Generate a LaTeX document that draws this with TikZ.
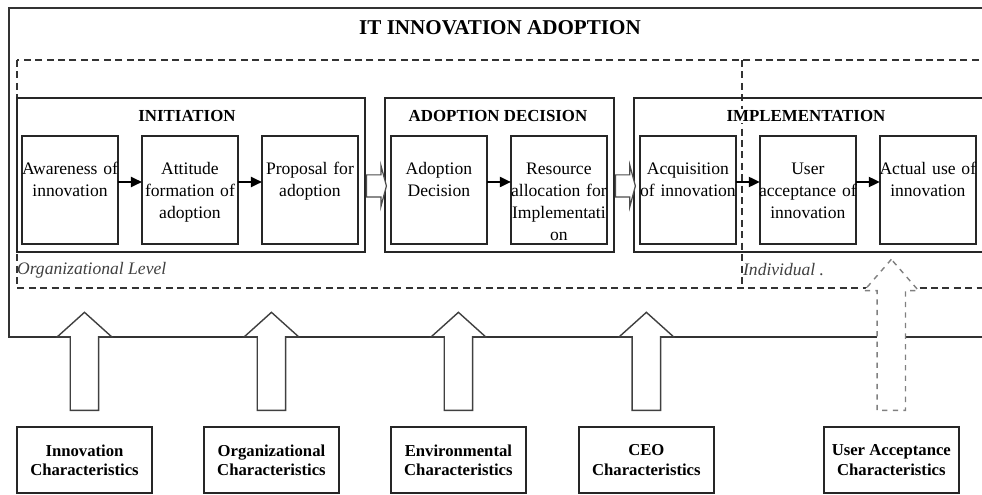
\documentclass[tikz,border=0pt]{standalone}
\usepackage{fontspec}
\setmainfont{Liberation Serif}
\usetikzlibrary{positioning,fit,shapes.arrows,arrows.meta}

\tikzset{
  framebox/.style={draw=black!80, line width=1pt},
  levelbox/.style={draw=black!80, line width=0.9pt, dash pattern=on 4pt off 2.5pt},
  stepbox/.style={draw=black!85, line width=1pt, text width=2.02cm, align=center,
    inner xsep=-0.05cm, inner ysep=0pt, outer sep=0pt,
    text height=0.78cm, text depth=1.38cm, font=\fontsize{10}{12.5}\selectfont},
  stagebox/.style={draw=black!85, line width=1pt, inner sep=0pt},
  stagetitle/.style={fill=white, inner sep=1pt, font=\fontsize{9.6}{11}\selectfont\bfseries},
  leveltext/.style={anchor=west, inner sep=1pt, font=\fontsize{10}{12}\selectfont\itshape, text=black!75},
  factorbox/.style={draw=black!85, line width=1pt, minimum width=2.7cm, minimum height=1.32cm,
    outer sep=0pt, align=center, inner sep=0pt, font=\fontsize{9.5}{11}\selectfont\bfseries},
  flow/.style={line width=1.1pt, -{Triangle[length=0.22cm,width=0.2cm]}},
  stagearrow/.style={single arrow, anchor=tail, draw=black!70, fill=white, line width=0.7pt,
    inner xsep=0pt, inner ysep=0.21cm, minimum height=0.4cm,
    single arrow head extend=0.19cm, single arrow tip angle=150},
  uparrow/.style={single arrow, shape border rotate=90, anchor=tail, draw=black!75, fill=white,
    line width=0.8pt, inner sep=0.27cm, minimum height=1.96cm,
    single arrow head extend=0.26cm, single arrow tip angle=96}
}

\begin{document}
\begin{tikzpicture}[x=0.02cm, y=-0.02cm]
\useasboundingbox (0,0) rectangle (982,494);
\clip (0,0) rectangle (982,494);

% outer frame and levels
\draw[framebox] (9,8) rectangle (995,337);
\draw[levelbox] (17,60) rectangle (995,288);
\draw[levelbox] (742,60) -- (742,284);
\node[font=\fontsize{12}{14}\selectfont\bfseries] (title) at (500,28) {IT INNOVATION ADOPTION};

% process steps
\node[stepbox, anchor=north west] (aware) at (22,136) {Awareness of\\innovation};
\node[stepbox, right=0.48cm of aware] (attitude) {Attitude\\formation of\\adoption};
\node[stepbox, right=0.48cm of attitude] (proposal) {Proposal for\\adoption};
\node[stepbox, right=0.66cm of proposal] (decision) {Adoption\\Decision};
\node[stepbox, right=0.48cm of decision] (resource) {Resource\\allocation for\\Implementati\\on};
\node[stepbox, right=0.66cm of resource] (acquisition) {Acquisition\\of innovation};
\node[stepbox, right=0.48cm of acquisition] (acceptance) {User\\acceptance of\\innovation};
\node[stepbox, right=0.48cm of acceptance] (actualuse) {Actual use of\\innovation};

% stages
\node[stagebox, fit={([xshift=-0.1cm,yshift=0.76cm]aware.north west) ([xshift=0.14cm,yshift=-0.16cm]proposal.south east)}] (initiation) {};
\node[stagebox, fit={([xshift=-0.12cm,yshift=0.76cm]decision.north west) ([xshift=0.14cm,yshift=-0.16cm]resource.south east)}] (adoption) {};
\node[stagebox, fit={([xshift=-0.12cm,yshift=0.76cm]acquisition.north west) ([xshift=0.14cm,yshift=-0.16cm]actualuse.south east)}] (implementation) {};
\node[stagetitle] (initiationtitle) at (187,116) {INITIATION};
\node[stagetitle] (adoptiontitle) at (498,116) {ADOPTION DECISION};
\node[stagetitle] (implementationtitle) at (806,116) {IMPLEMENTATION};

\draw[flow] ([yshift=0.16cm]aware.east) -- ([yshift=0.16cm]attitude.west);
\draw[flow] ([yshift=0.16cm]attitude.east) -- ([yshift=0.16cm]proposal.west);
\draw[flow] ([yshift=0.16cm]decision.east) -- ([yshift=0.16cm]resource.west);
\draw[flow] ([yshift=0.16cm]acquisition.east) -- ([yshift=0.16cm]acceptance.west);
\draw[flow] ([yshift=0.16cm]acceptance.east) -- ([yshift=0.16cm]actualuse.west);
\node[stagearrow] (initarrow) at ([yshift=-0.22cm]initiation.east) {};
\node[stagearrow] (adoptarrow) at ([yshift=-0.22cm]adoption.east) {};

\node[leveltext] (orglevel) at (15,270) {Organizational Level};
\node[leveltext] (indlevel) at (741,270) {Individual .};

% characteristics
\node[factorbox, anchor=north west] (innovchar) at (17,427) {Innovation\\Characteristics};
\node[factorbox, right=1.04cm of innovchar] (orgchar) {Organizational\\Characteristics};
\node[factorbox, right=1.04cm of orgchar] (envchar) {Environmental\\Characteristics};
\node[factorbox, right=1.06cm of envchar] (ceochar) {CEO\\Characteristics};
\node[factorbox, right=2.2cm of ceochar] (userchar) {User Acceptance\\Characteristics};

\foreach \f in {innovchar,orgchar,envchar,ceochar}
  \node[uparrow] (up\f) at ([yshift=0.32cm]\f.north) {};
\node[uparrow, dashed, draw=black!50, minimum height=3.02cm, single arrow tip angle=82] (upuserchar) at ([yshift=0.32cm]userchar.north) {};
\end{tikzpicture}
\end{document}
